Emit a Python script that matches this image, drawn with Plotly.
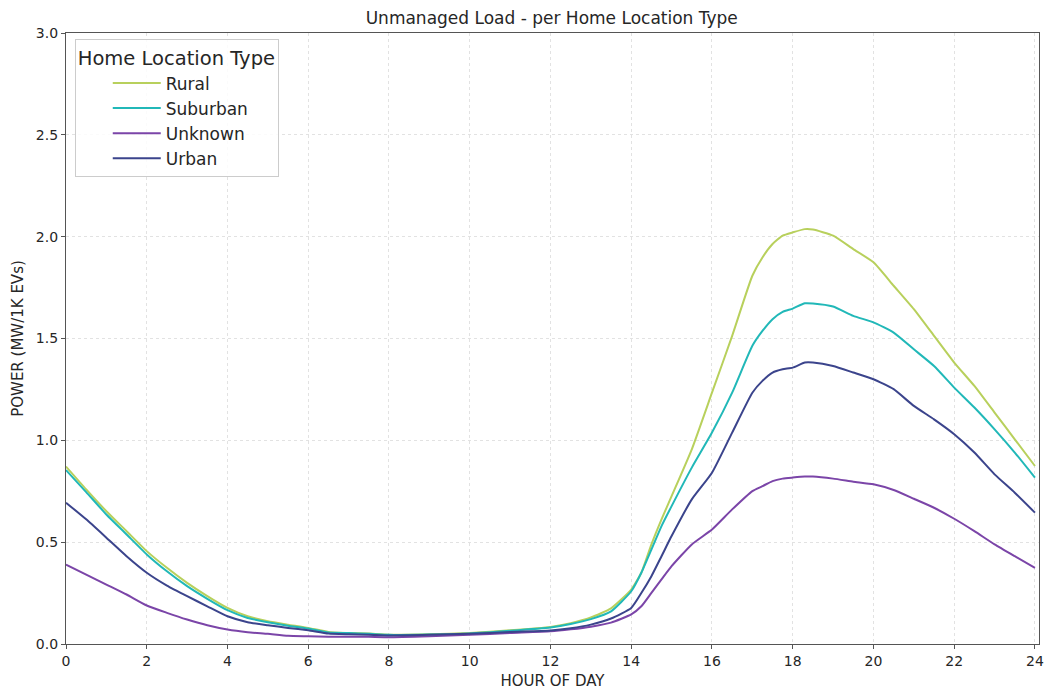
import plotly.graph_objects as go

# Hour of day at which each profile value is sampled
hours = [0, 0.5, 1, 1.5, 2, 2.5, 3, 3.5, 4, 4.5, 5, 5.5, 6, 6.5, 7, 7.5, 8, 9, 10, 11,
         12, 12.5, 13, 13.5, 14, 14.25, 14.5, 14.75, 15, 15.5, 16, 16.5, 17, 17.25,
         17.5, 17.75, 18, 18.3, 18.5, 19, 19.5, 20, 20.5, 21, 21.5, 22, 22.5, 23, 23.5, 24]

# Average unmanaged charging power (MW per 1K EVs) by home location type
rural = [0.871, 0.759, 0.652, 0.554, 0.456, 0.374, 0.300, 0.235, 0.177, 0.136, 0.112, 0.095,
         0.079, 0.059, 0.054, 0.051, 0.046, 0.048, 0.054, 0.067,
         0.084, 0.102, 0.130, 0.175, 0.267, 0.350, 0.489, 0.612, 0.726, 0.956, 1.234, 1.513,
         1.808, 1.898, 1.964, 2.005, 2.021, 2.037, 2.035, 2.005, 1.939, 1.874, 1.759, 1.644,
         1.513, 1.382, 1.267, 1.136, 1.005, 0.874]
suburban = [0.854, 0.746, 0.636, 0.538, 0.440, 0.357, 0.284, 0.222, 0.166, 0.128, 0.107, 0.090,
            0.076, 0.057, 0.054, 0.050, 0.045, 0.047, 0.052, 0.065,
            0.081, 0.098, 0.122, 0.160, 0.259, 0.350, 0.464, 0.579, 0.677, 0.866, 1.038, 1.234,
            1.464, 1.537, 1.595, 1.631, 1.647, 1.673, 1.672, 1.657, 1.611, 1.579, 1.529, 1.447,
            1.365, 1.259, 1.161, 1.054, 0.940, 0.817]
unknown = [0.390, 0.341, 0.292, 0.243, 0.189, 0.153, 0.120, 0.092, 0.071, 0.058, 0.050, 0.040,
           0.038, 0.036, 0.036, 0.035, 0.033, 0.038, 0.045, 0.054,
           0.062, 0.072, 0.085, 0.105, 0.145, 0.185, 0.251, 0.317, 0.382, 0.489, 0.562, 0.661,
           0.751, 0.775, 0.800, 0.812, 0.817, 0.822, 0.822, 0.812, 0.797, 0.784, 0.756, 0.713,
           0.669, 0.615, 0.554, 0.489, 0.431, 0.374]
urban = [0.694, 0.612, 0.522, 0.431, 0.350, 0.287, 0.235, 0.185, 0.136, 0.107, 0.092, 0.079,
         0.067, 0.051, 0.048, 0.046, 0.042, 0.045, 0.050, 0.059,
         0.066, 0.077, 0.095, 0.125, 0.177, 0.250, 0.333, 0.431, 0.530, 0.710, 0.841, 1.038,
         1.234, 1.292, 1.333, 1.349, 1.357, 1.382, 1.382, 1.365, 1.333, 1.300, 1.251, 1.169,
         1.103, 1.030, 0.940, 0.833, 0.743, 0.645]

series = [
    ("Rural", rural, "#b8d05c"),
    ("Suburban", suburban, "#21b8b8"),
    ("Unknown", unknown, "#7b45a8"),
    ("Urban", urban, "#3b448c"),
]

x_ticks = list(range(0, 25, 2))
y_ticks = [0.0, 0.5, 1.0, 1.5, 2.0, 2.5, 3.0]

FONT = "DejaVu Sans"
TEXT = "#262626"

fig = go.Figure()
for name, values, color in series:
    fig.add_trace(go.Scatter(
        x=hours, y=values, name=name, mode="lines", legendgroup=name,
        line=dict(color=color, width=2, shape="spline", smoothing=0.5),
    ))

axis_common = dict(
    showline=True, linecolor="#555555", linewidth=1.2, mirror=True,
    ticks="outside", ticklen=4, tickwidth=1, tickcolor="#555555",
    showgrid=True, gridcolor="#e2e2e2", griddash="dot", gridwidth=1,
    zeroline=False, automargin=False,
    tickfont=dict(family=FONT, size=14, color=TEXT),
)

fig.update_layout(
    width=1047, height=690,
    margin=dict(l=66, r=8, t=33, b=46, autoexpand=False),
    paper_bgcolor="white", plot_bgcolor="white",
    font=dict(family=FONT, color=TEXT),
    title=dict(text="Unmanaged Load - per Home Location Type",
               x=0.527, xanchor="center", y=0.974, yanchor="middle",
               font=dict(family=FONT, size=17, color=TEXT)),
    xaxis=dict(range=[0, 24.1], tickvals=x_ticks,
               title=dict(text="HOUR OF DAY", font=dict(family=FONT, size=15, color=TEXT), standoff=8),
               **axis_common),
    yaxis=dict(range=[0, 3], tickvals=y_ticks, tickformat=".1f",
               title=dict(text="POWER (MW/1K EVs)", font=dict(family=FONT, size=15, color=TEXT), standoff=8),
               **axis_common),
    legend=dict(
        x=0.009, y=0.99, xanchor="left", yanchor="top",
        bgcolor="rgba(255,255,255,0.85)", bordercolor="#cccccc", borderwidth=1,
        font=dict(family=FONT, size=17, color=TEXT),
        title=dict(text="Home Location Type", side="top",
                   font=dict(family=FONT, size=19.5, color=TEXT)),
        itemwidth=48, tracegroupgap=0, indentation=32,
    ),
)

fig.write_html("out.html")
